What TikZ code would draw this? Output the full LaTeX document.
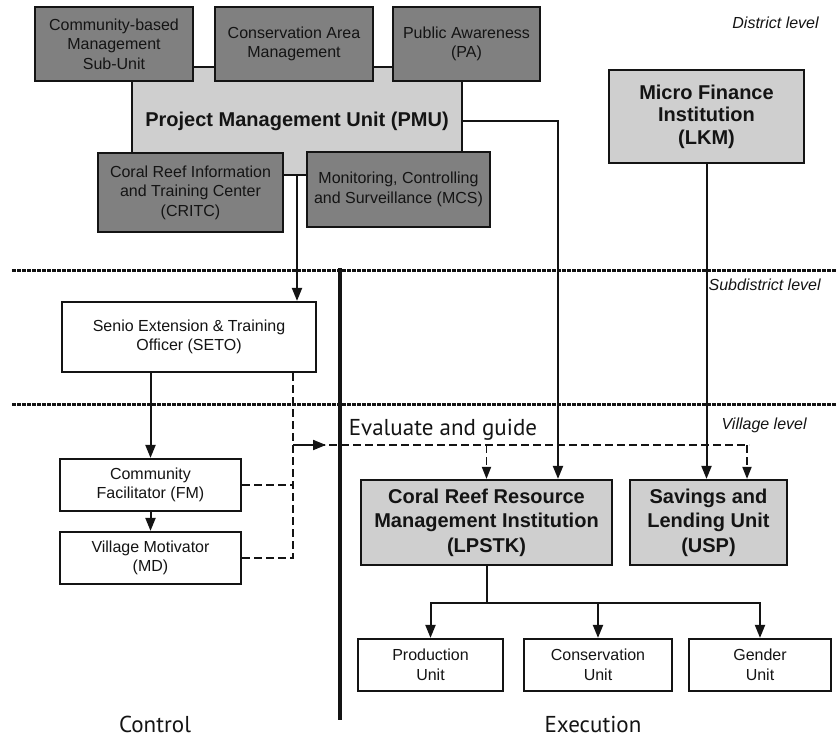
\documentclass[tikz,border=0pt]{standalone}
\usepackage{fontspec}
\setmainfont{Liberation Sans}
\newfontfamily\capfont{PT Sans}
\usetikzlibrary{arrows.meta,positioning,calc}
\definecolor{ink}{RGB}{20,20,20}
\definecolor{unitdark}{RGB}{128,128,128}
\definecolor{unitlight}{RGB}{207,207,207}
\tikzset{
  every picture/.style={color=ink, line width=2pt},
  box/.style={draw=ink, line width=2.2pt, fill=white, inner sep=2pt, align=center, font=\fontsize{16}{19.5}\selectfont},
  sub/.style={box, fill=unitdark},
  inst/.style={box, fill=unitlight, font=\fontsize{20}{24.5}\selectfont\bfseries},
  flow/.style={-{Triangle[length=13pt,width=10pt]}, line width=2pt},
  guide/.style={line width=1.8pt, dash pattern=on 8pt off 4pt},
  tier/.style={line width=3pt, dash pattern=on 3.5pt off 1.5pt},
  level/.style={anchor=east, font=\fontsize{16}{18}\selectfont\itshape},
  side/.style={anchor=base, font=\capfont\fontsize{23}{28}\selectfont},
}

\begin{document}
\begin{tikzpicture}[x=1pt, y=-1pt]
  \useasboundingbox (0,0) rectangle (836,737);
  % tier borders and the control / execution split
  \coordinate (t1w) at (12,270);  \coordinate (t1e) at (836,270);
  \coordinate (t2w) at (12,404);  \coordinate (t2e) at (836,404);
  \draw[tier] (t1w) -- (t1e);
  \draw[tier] (t2w) -- (t2e);
  \coordinate (splitn) at (340,268); \coordinate (splits) at (340,720);
  \draw[line width=4.2pt] (splitn) -- (splits);
  \node[level] (dist) at (823,23) {District level};
  \node[level] (subd) at (825,285) {Subdistrict level};
  \node[level] (vill) at (811,425) {Village level};

  % district level
  \node[inst, minimum width=330pt, minimum height=108pt] (pmu) at (297,121) {Project Management Unit (PMU)};
  \node[sub, minimum width=158pt, minimum height=74pt] (cbm) at (114,44) {Community-based\\ Management\\ Sub-Unit};
  \node[sub, minimum width=158pt, minimum height=74pt] (cam) at (294,44) {Conservation Area\\ Management};
  \node[sub, minimum width=147pt, minimum height=74pt] (pa) at (466.5,44) {Public Awareness\\ (PA)};
  \node[sub, minimum width=185pt, minimum height=79pt] (critc) at (190.5,192.5) {Coral Reef Information\\ and Training Center\\ (CRITC)};
  \node[sub, minimum width=183pt, minimum height=75pt] (mcs) at (398.5,189.5) {Monitoring, Controlling\\ and Surveillance (MCS)};
  \node[inst, minimum width=195pt, minimum height=93pt, font=\fontsize{20}{22.5}\selectfont\bfseries] (lkm) at (706.5,116.5) {Micro Finance\\ Institution\\ (LKM)};

  % control side
  \node[box, minimum width=254pt, minimum height=70pt] (seto) at (189,337) {Senio Extension \& Training\\ Officer (SETO)};
  \node[box, minimum width=181pt, minimum height=52pt] (fm) at (150.5,485) {Community\\ Facilitator (FM)};
  \node[box, minimum width=181pt, minimum height=52pt] (md) at (150.5,558) {Village Motivator\\ (MD)};

  % execution side
  \node[inst, minimum width=251pt, minimum height=85pt] (lpstk) at (486.5,522.5) {Coral Reef Resource\\ Management Institution\\ (LPSTK)};
  \node[inst, minimum width=157pt, minimum height=85pt] (usp) at (708.5,522.5) {Savings and\\ Lending Unit\\ (USP)};
  \node[box, minimum width=145pt, minimum height=52pt] (prod) at (430.5,665) {Production\\ Unit};
  \node[box, minimum width=148pt, minimum height=52pt] (cons) at (598,665) {Conservation\\ Unit};
  \node[box, minimum width=142pt, minimum height=52pt] (gend) at (760,665) {Gender\\ Unit};

  \draw[flow] (pmu.south) -- (pmu.south |- seto.north);
  \draw[flow] (seto.south -| fm.north) -- (fm.north);
  \draw[flow] (fm.south) -- (md.north);
  \coordinate (pmuin) at ([xshift=71.5pt]lpstk.north);
  \draw[flow] (pmu.east) -| (pmuin);
  \draw[flow] (lkm.south) -- (lkm.south |- usp.north);
  \draw (lpstk.south) -- ++(0,37) coordinate (bus);
  \draw[flow] (bus) -| (prod.north);
  \draw[flow] (bus) -| (cons.north);
  \draw[flow] (bus) -| (gend.north);

  % evaluate and guide
  \coordinate (ev) at (293,445);
  \coordinate (evend) at (749,445);
  \coordinate (uspin) at ([xshift=38.5pt]usp.north);
  \draw[guide] (seto.south -| ev) |- (md.east);
  \draw[guide] (fm.east) -- (fm.east -| ev);
  \draw[guide] (ev) -- (evend);
  \draw[flow] (ev) -- ++(33,0);
  \draw[guide, -{Triangle[length=12pt,width=9pt]}] (lpstk.north |- ev) -- (lpstk.north);
  \draw[guide, -{Triangle[length=12pt,width=9pt]}] (uspin |- ev) -- (uspin);
  \node[side] (evlbl) at (443,435) {Evaluate and guide};
  \node[side] (ctrl) at (155,732) {Control};
  \node[side] (exec) at (593,732) {Execution};
\end{tikzpicture}
\end{document}
